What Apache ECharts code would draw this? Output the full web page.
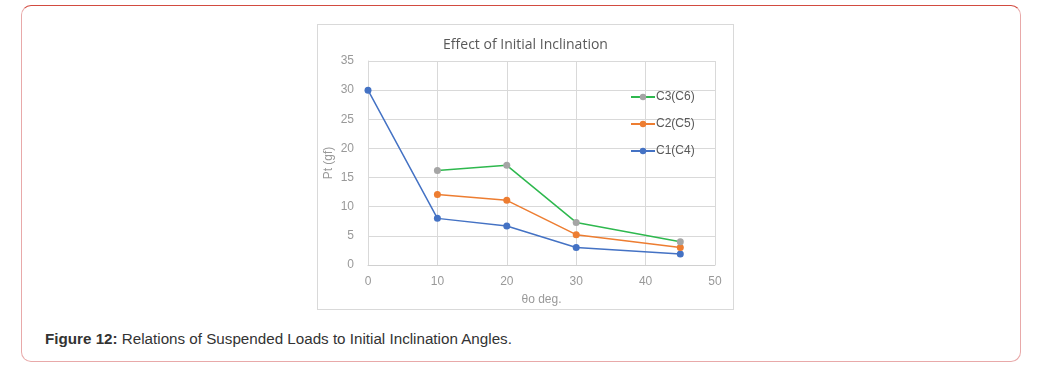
<!DOCTYPE html>
<html>
<head>
<meta charset="UTF-8">
<title>Effect of Initial Inclination</title>
<script src="https://cdn.jsdelivr.net/npm/echarts@6/dist/echarts.min.js"></script>
<style>
  html, body { margin: 0; padding: 0; background: #fff; }
  body { width: 1038px; height: 371px; position: relative; overflow: hidden; }
  .frame {
    position: absolute; left: 21px; top: 5px; width: 998px; height: 355px;
    border: 1px solid #e8a9a9; border-top-color: #d24b40; border-radius: 10px;
  }
  #main {
    position: absolute; left: 317px; top: 24px; width: 417px; height: 286px;
    border: 1px solid #d9d9d9; box-sizing: border-box;
  }
  .caption {
    position: absolute; left: 45px; top: 330px;
    font-family: "Liberation Sans", Arial, sans-serif; font-size: 15.2px; color: #333;
  }
</style>
</head>
<body>
<div class="frame"></div>
<div id="main"></div>
<div class="caption"><b>Figure 12:</b> Relations of Suspended Loads to Initial Inclination Angles.</div>
<script type="text/javascript">
// 数据
var angles = [0, 10, 20, 30, 45];
var c1 = [30, 8.0, 6.7, 3.0, 1.9];
var c2 = [null, 12.1, 11.1, 5.2, 3.0];
var c3 = [null, 16.2, 17.1, 7.3, 4.0];
var seriesNames = ['C1(C4)', 'C2(C5)', 'C3(C6)'];
var legendOrder = ['C3(C6)', 'C2(C5)', 'C1(C4)'];

function pairs(vals) {
    var out = [];
    for (var i = 0; i < angles.length; i++) {
        if (vals[i] !== null) out.push([angles[i], vals[i]]);
    }
    return out;
}

var myChart = echarts.init(document.getElementById('main'));
var labelFont = { color: '#999999', fontSize: 12, fontFamily: 'Liberation Sans, Arial, sans-serif' };

myChart.setOption({
    animation: false,
    title: {
        text: 'Effect of Initial Inclination',
        left: 'center', top: 8,
        textStyle: { color: '#595959', fontSize: 14, fontWeight: 'normal', fontFamily: 'Open Sans, sans-serif' }
    },
    legend: {
        data: legendOrder,
        orient: 'vertical',
        left: 307, top: 61,
        itemWidth: 24, itemHeight: 8, itemGap: 15,
        textStyle: { color: '#595959', fontSize: 12, fontFamily: 'Liberation Sans, Arial, sans-serif', padding: [0, 0, 0, -4] }
    },
    grid: { left: 50, top: 36, width: 347, height: 204, outerBoundsMode: 'none', containLabel: false },
    xAxis: {
        type: 'value', min: 0, max: 50, interval: 10,
        name: 'θo deg.', nameLocation: 'middle', nameGap: 29, nameMoveOverlap: false,
        nameTextStyle: labelFont,
        axisLine: { show: true, lineStyle: { color: '#d0d0d0' } },
        axisTick: { show: false },
        axisLabel: Object.assign({ margin: 11 }, labelFont),
        splitLine: { show: true, lineStyle: { color: '#d9d9d9' } }
    },
    yAxis: {
        type: 'value', min: 0, max: 35, interval: 5,
        name: 'Pt (gf)', nameLocation: 'middle', nameGap: 33, nameRotate: 90, nameMoveOverlap: false,
        nameTextStyle: labelFont,
        axisLine: { show: true, lineStyle: { color: '#d9d9d9' } },
        axisTick: { show: false },
        axisLabel: Object.assign({ margin: 14 }, labelFont),
        splitLine: { show: true, lineStyle: { color: '#d9d9d9' } }
    },
    series: [
        {
            name: seriesNames[0], type: 'line', data: pairs(c1),
            symbol: 'circle', symbolSize: 7,
            lineStyle: { color: '#4472c4', width: 1.5 },
            itemStyle: { color: '#4472c4' }
        },
        {
            name: seriesNames[1], type: 'line', data: pairs(c2),
            symbol: 'circle', symbolSize: 7,
            lineStyle: { color: '#ed7d31', width: 1.5 },
            itemStyle: { color: '#ed7d31' }
        },
        {
            name: seriesNames[2], type: 'line', data: pairs(c3),
            symbol: 'circle', symbolSize: 7,
            lineStyle: { color: '#2eb84e', width: 1.5 },
            itemStyle: { color: '#a5a5a5' }
        }
    ]
});
</script>
</body>
</html>
